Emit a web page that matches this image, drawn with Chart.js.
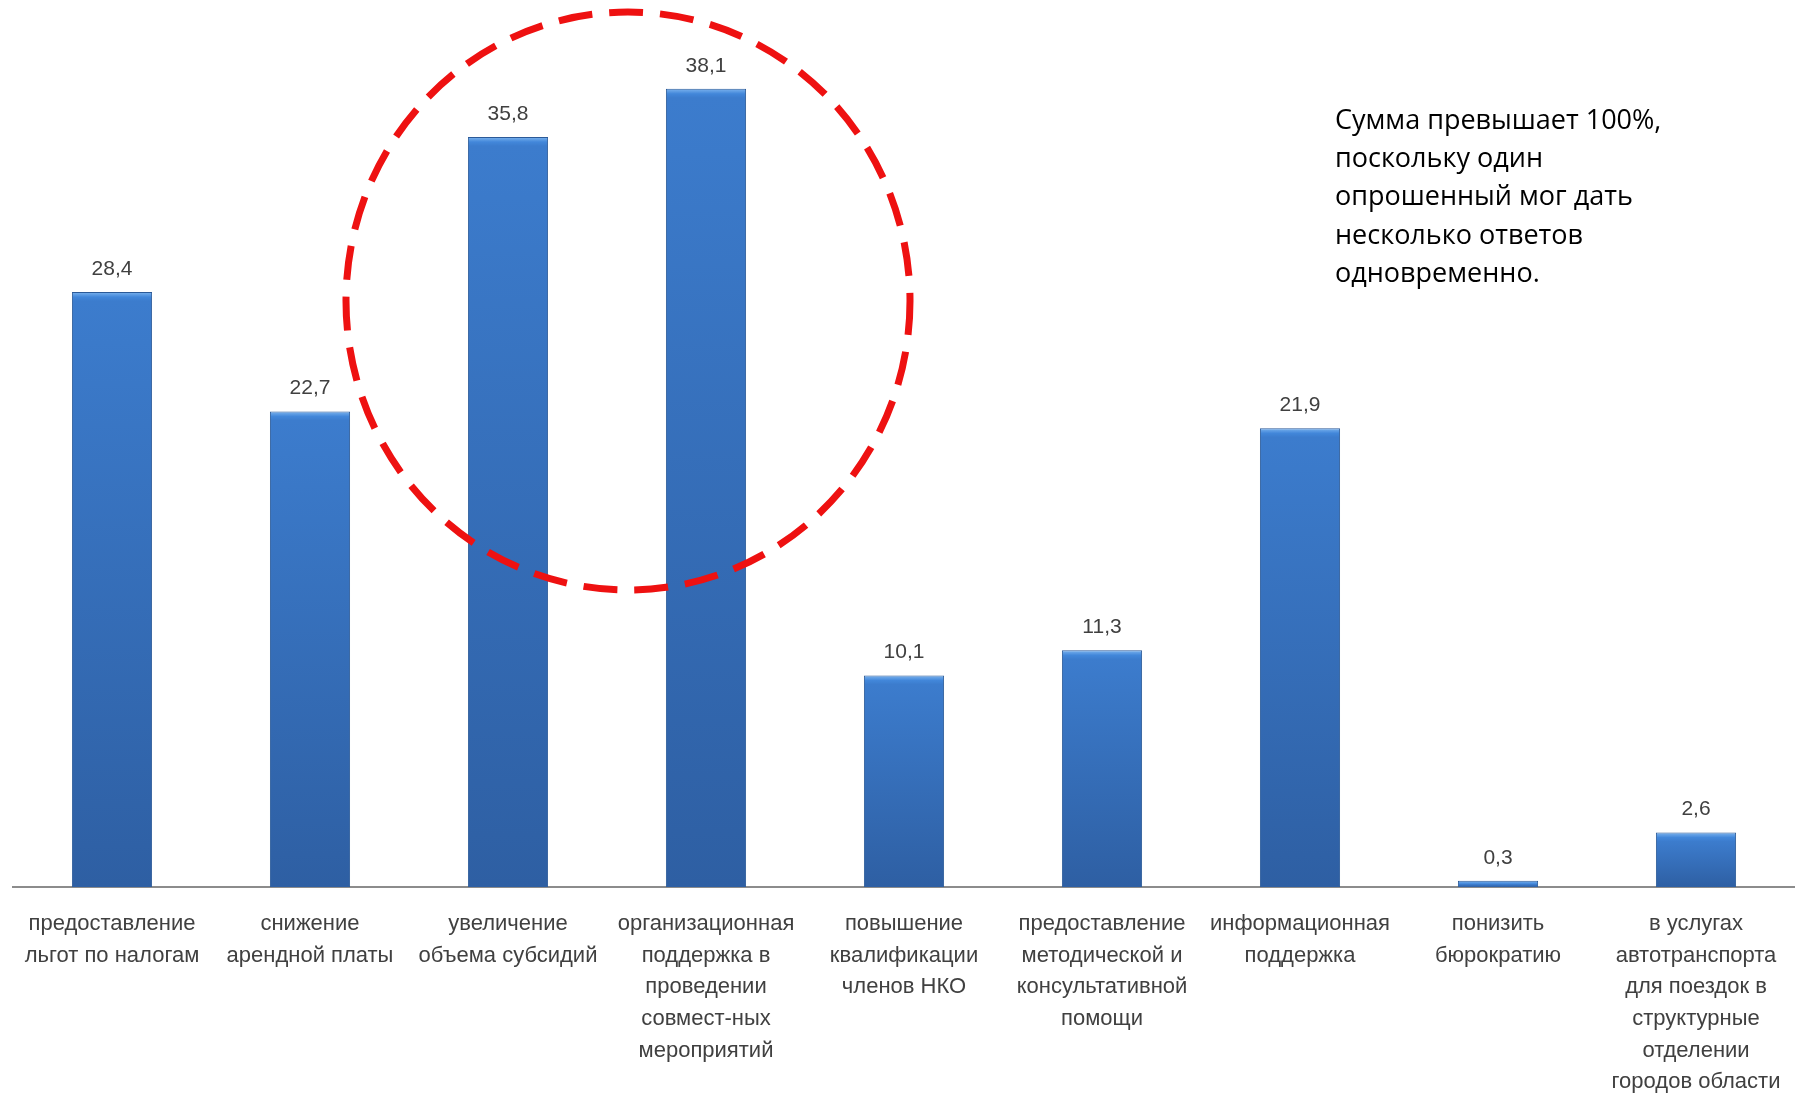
<!DOCTYPE html>
<html>
<head>
<meta charset="utf-8">
<script src="https://cdn.jsdelivr.net/npm/chart.js@4.4.1/dist/chart.umd.min.js"></script>
<style>
  body { margin: 0; background: #fff; }
  #wrap { width: 1795px; height: 1093px; }
</style>
</head>
<body>
<div id="wrap"><canvas id="chart" width="1795" height="1093"></canvas></div>
<script>
// категории (подписи по оси X, уже разбитые на строки как в оригинале)
const categories = [
    ['предоставление', 'льгот по налогам'],
    ['снижение', 'арендной платы'],
    ['увеличение', 'объема субсидий'],
    ['организационная', 'поддержка в', 'проведении', 'совмест-ных', 'мероприятий'],
    ['повышение', 'квалификации', 'членов НКО'],
    ['предоставление', 'методической и', 'консультативной', 'помощи'],
    ['информационная', 'поддержка'],
    ['понизить', 'бюрократию'],
    ['в услугах', 'автотранспорта', 'для поездок в', 'структурные', 'отделении', 'городов области']
];
const values = [28.4, 22.7, 35.8, 38.1, 10.1, 11.3, 21.9, 0.3, 2.6];
const noteLines = [
    'Сумма превышает 100%,',
    'поскольку один',
    'опрошенный мог дать',
    'несколько ответов',
    'одновременно.'
];

const labelFont = '"Liberation Sans Narrow", "Liberation Sans", Arial, sans-serif';

// градиент для каждого столбика (светлее сверху, темнее снизу)
function barFill(c) {
    const chart = c.chart;
    const ys = chart.scales.y;
    if (!ys || c.raw === undefined) return '#3a75c4';
    const top = ys.getPixelForValue(c.raw);
    const bottom = ys.getPixelForValue(0);
    if (!isFinite(top) || !isFinite(bottom)) return '#3a75c4';
    const h = Math.max(bottom - top, 1);
    const g = chart.ctx.createLinearGradient(0, top, 0, bottom);
    g.addColorStop(0, '#7db4ee');
    g.addColorStop(Math.min(5 / h, 0.5), '#4287da');
    g.addColorStop(Math.min(9 / h, 0.6), '#3c7ccd');
    g.addColorStop(1, '#2e5fa3');
    return g;
}

const valueLabels = {
    id: 'valueLabels',
    afterDatasetsDraw(chart) {
        const ctx = chart.ctx;
        const meta = chart.getDatasetMeta(0);
        ctx.save();
        ctx.font = '21px ' + labelFont;
        ctx.fillStyle = '#404040';
        ctx.textAlign = 'center';
        ctx.textBaseline = 'middle';
        meta.data.forEach((bar, i) => {
            ctx.fillText(values[i].toFixed(1).replace('.', ','), bar.x, bar.y - 23);
        });
        ctx.restore();
    }
};

const extras = {
    id: 'extras',
    afterDraw(chart) {
        const ctx = chart.ctx;
        ctx.save();
        // красный пунктирный круг
        ctx.strokeStyle = '#ee1111';
        ctx.lineWidth = 7;
        ctx.setLineDash([34, 17]);
        ctx.beginPath();
        ctx.ellipse(628, 301, 282, 289, 0, 0, Math.PI * 2);
        ctx.stroke();
        ctx.setLineDash([]);
        // примечание
        ctx.font = '27px "Open Sans", "Noto Sans", sans-serif';
        ctx.fillStyle = '#000';
        ctx.textAlign = 'left';
        ctx.textBaseline = 'middle';
        noteLines.forEach((t, i) => ctx.fillText(t, 1335, 121 + i * 38.3));
        ctx.restore();
    }
};

const ctx = document.getElementById('chart').getContext('2d');

const chart = new Chart(ctx, {
    type: 'bar',
    data: {
        labels: categories,
        datasets: [{
            data: values,
            backgroundColor: barFill,
            borderColor: '#2b5a98',
            borderWidth: 1,
            borderSkipped: 'bottom',
            barPercentage: 0.81,
            categoryPercentage: 0.5
        }]
    },
    options: {
        responsive: false,
        animation: false,
        layout: {
            padding: { left: 13, right: -9, top: 49, bottom: 0 }
        },
        plugins: {
            legend: { display: false },
            tooltip: { enabled: false }
        },
        scales: {
            x: {
                grid: { display: false, drawTicks: false },
                border: { display: true, color: '#8c8c8c', width: 2 },
                ticks: {
                    color: '#404040',
                    maxRotation: 0,
                    autoSkip: false,
                    padding: 21,
                    font: { family: labelFont, size: 22, lineHeight: 1.44 }
                },
                afterFit(scale) {
                    scale.height = 206;
                    scale.paddingLeft = 0;
                    scale.paddingRight = 0;
                }
            },
            y: {
                display: false,
                min: 0,
                max: 40
            }
        }
    },
    plugins: [valueLabels, extras]
});
</script>
</body>
</html>
